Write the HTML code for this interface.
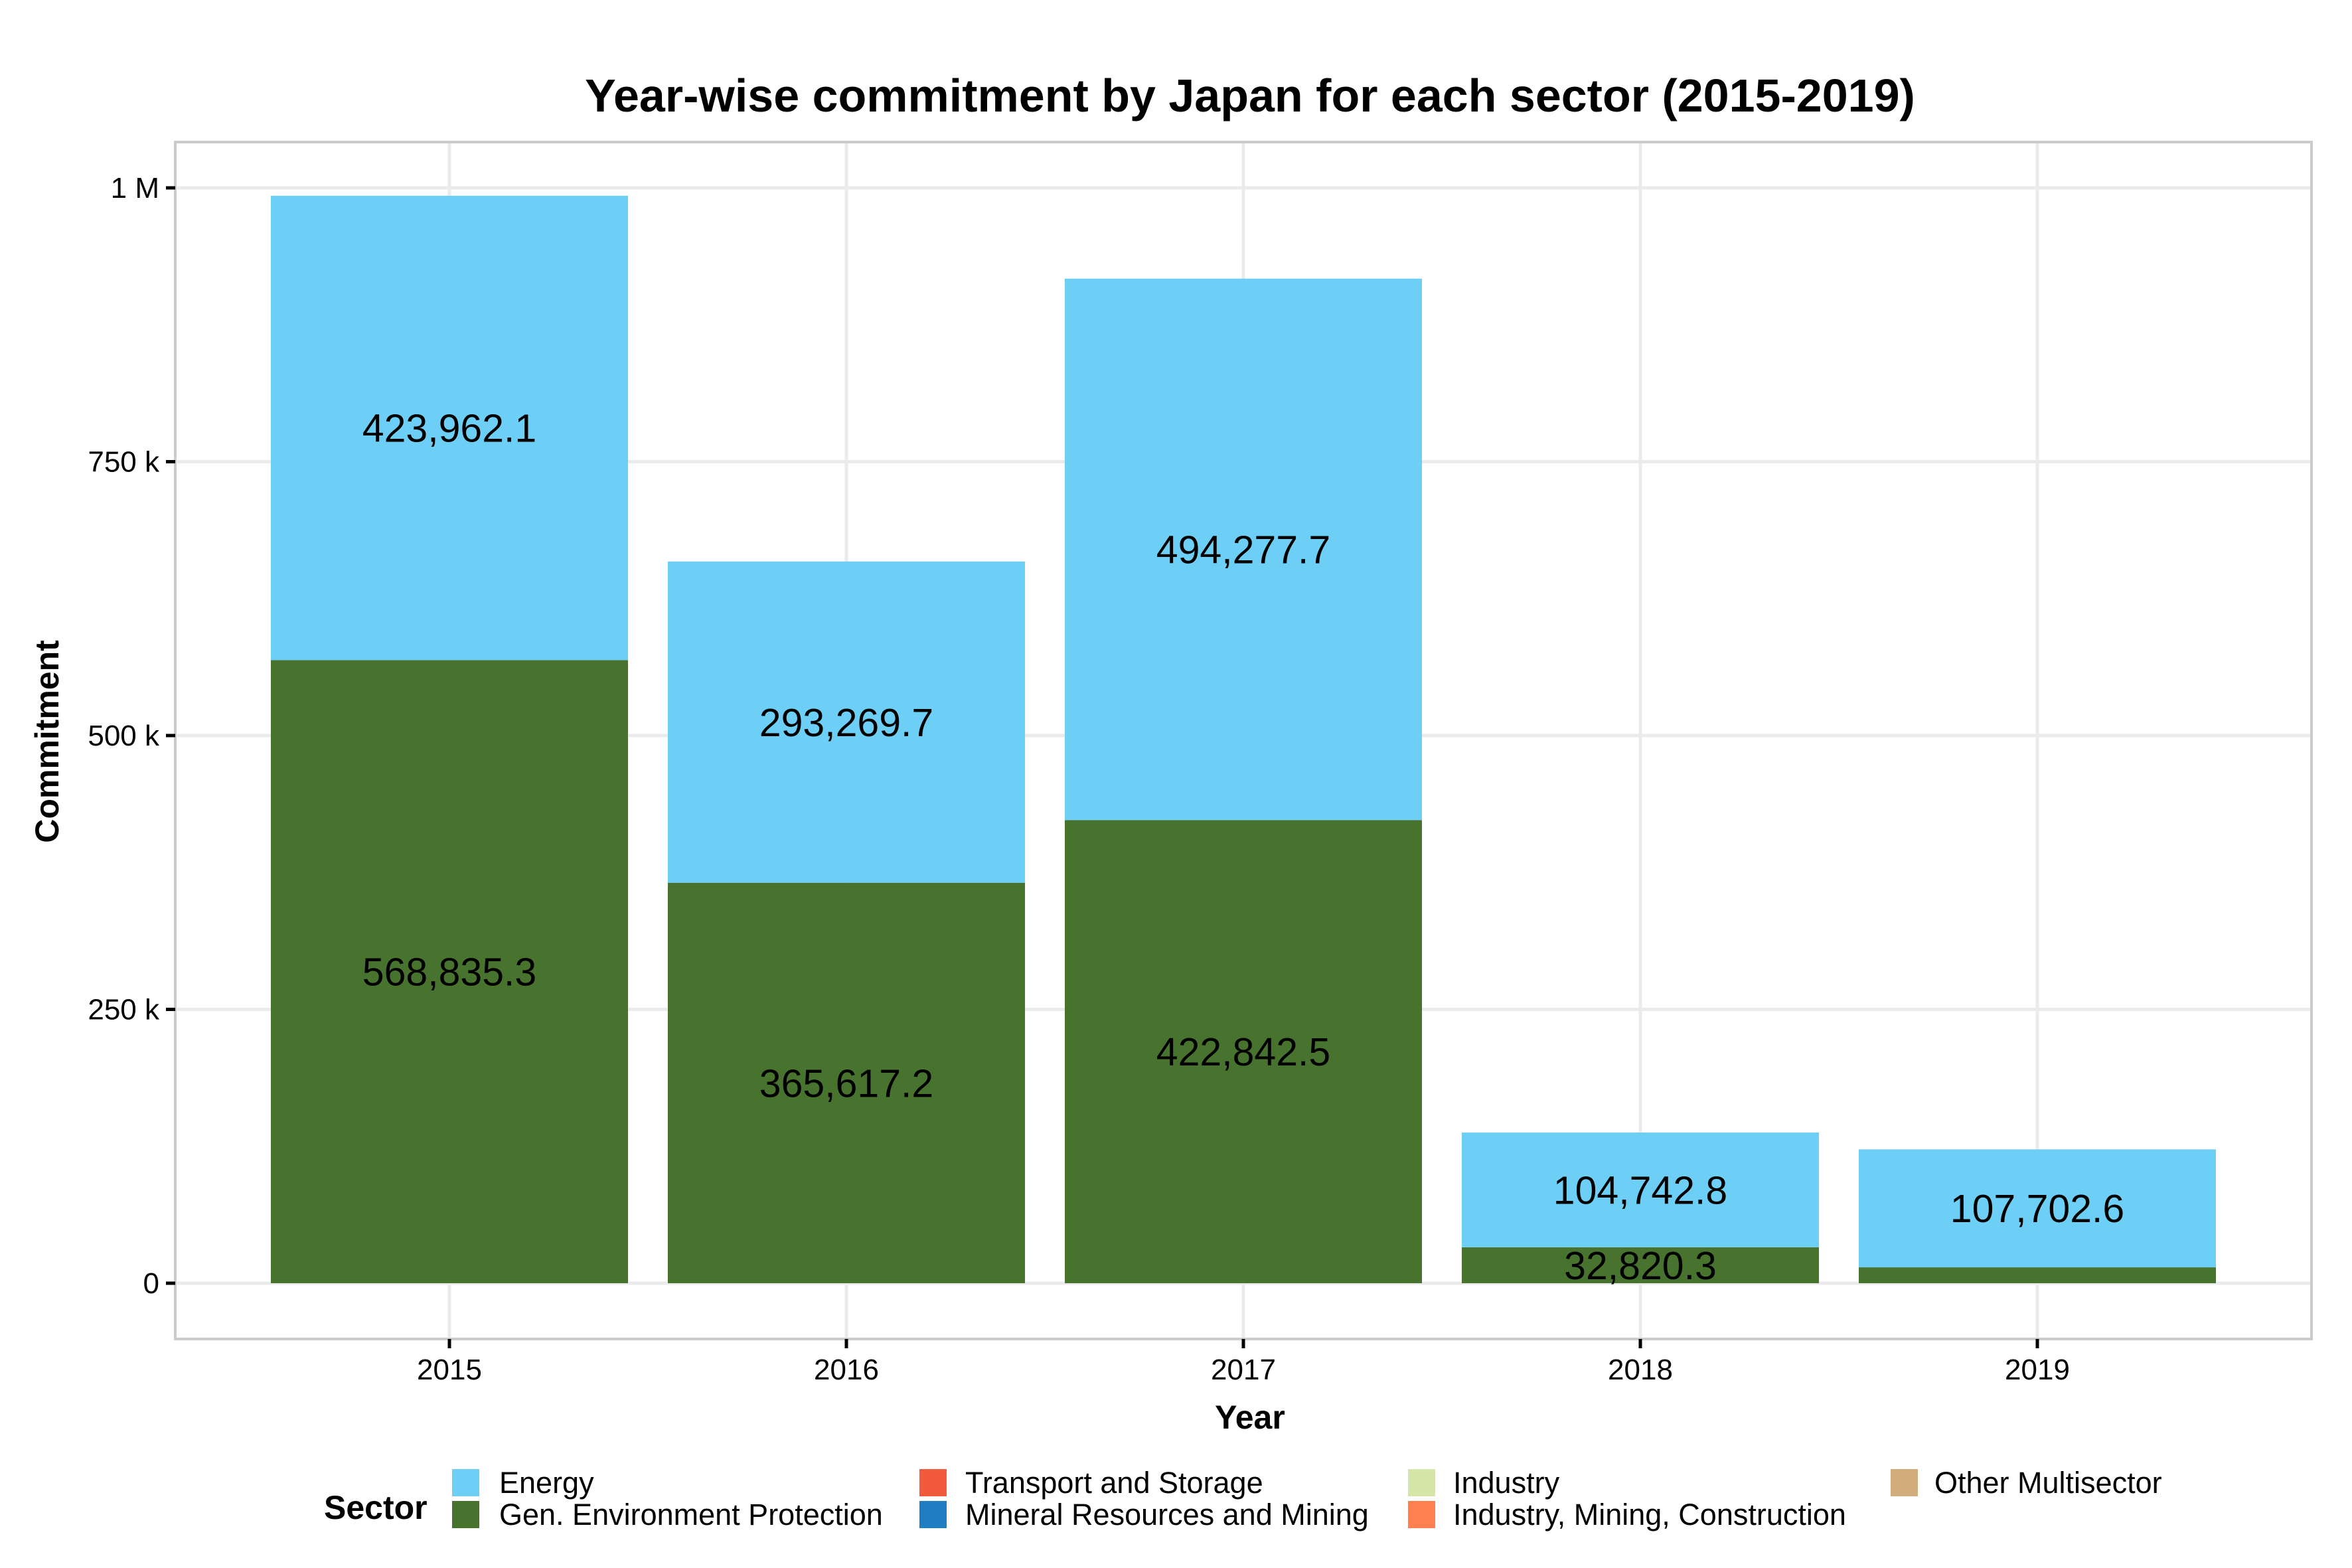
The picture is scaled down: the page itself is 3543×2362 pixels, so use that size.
<!DOCTYPE html>
<html><head><meta charset="utf-8"><style>
html,body{margin:0;padding:0;background:#fff;}
svg{display:block;font-family:"Liberation Sans",Arial,sans-serif;}
</style></head><body>
<svg id="chart" width="3543" height="2362" viewBox="0 0 3543 2362" xmlns="http://www.w3.org/2000/svg">
<rect width="3543" height="2362" fill="#fff"/>
<text x="1883" y="168" font-size="70" font-weight="bold" text-anchor="middle">Year-wise commitment by Japan for each sector (2015-2019)</text>
<g id="grid"></g>
<g id="bars"></g>
<g id="labels"></g>
<rect x="264" y="214" width="3218" height="1803" fill="none" stroke="#cccccc" stroke-width="4"/>
<g id="axes"></g>
<text x="1883" y="2152" font-size="50" font-weight="bold" text-anchor="middle">Year</text>
<text transform="translate(88,1117) rotate(-90)" font-size="50" font-weight="bold" text-anchor="middle">Commitment</text>
<g id="legend"></g>
</svg>
<script>
const years = ["2015","2016","2017","2018","2019"];
const genEnv = [568835.3, 365617.2, 422842.5, 32820.3, 14500];
const energy = [423962.1, 293269.7, 494277.7, 104742.8, 107702.6];
const genEnvLabels = ["568,835.3","365,617.2","422,842.5","32,820.3",""];
const energyLabels = ["423,962.1","293,269.7","494,277.7","104,742.8","107,702.6"];
const yTicks = [0, 250000, 500000, 750000, 1000000];
const yTickLabels = ["0","250 k","500 k","750 k","1 M"];
const legendNames = ["Energy","Gen. Environment Protection","Transport and Storage","Mineral Resources and Mining","Industry","Industry, Mining, Construction","Other Multisector"];
const legendColors = ["#6ECFF6","#48732F","#F15A3A","#1F7DC1","#D6E5A8","#FF7F50","#D2AD7C"];

const NS="http://www.w3.org/2000/svg";
const PL=264, PR=3482, PT=214, PB=2017;
const y = v => 1933 - v*1650/1000000;
const x = i => 677 + i*598;
const BW = 538;
function mk(tag, attrs, parent, text){
  const e=document.createElementNS(NS,tag);
  for(const k in attrs) e.setAttribute(k,attrs[k]);
  if(text!==undefined) e.textContent=text;
  parent.appendChild(e); return e;
}
const grid=document.getElementById('grid'), bars=document.getElementById('bars'),
 labels=document.getElementById('labels'), axes=document.getElementById('axes'), legend=document.getElementById('legend');
mk('rect',{x:PL,y:PT,width:PR-PL,height:PB-PT,fill:'#fff'},grid);
yTicks.forEach((t,i)=>{
  const l=mk('line',{x1:PL,x2:PR,y1:y(t),y2:y(t),stroke:'#ebebeb','stroke-width':5},grid);
  
  
  const tk=mk('line',{x1:250,x2:264,y1:y(t),y2:y(t),stroke:'#000','stroke-width':5},axes);
  
  
  const tl=mk('text',{x:240,y:y(t)+15,'font-size':44,'text-anchor':'end'},axes,yTickLabels[i]);
  
  
});
years.forEach((yr,i)=>{
  const l=mk('line',{x1:x(i),x2:x(i),y1:PT,y2:PB,stroke:'#ebebeb','stroke-width':5},grid);
  
  
  const tk=mk('line',{x1:x(i),x2:x(i),y1:PB,y2:PB+14,stroke:'#000','stroke-width':5},axes);
  
  
  const tl=mk('text',{x:x(i),y:2078,'font-size':44,'text-anchor':'middle'},axes,yr);
  
  
  const g0=y(0), g1=y(genEnv[i]), e1=y(genEnv[i]+energy[i]);
  const rg=mk('rect',{x:x(i)-BW/2,y:g1,width:BW,height:g0-g1,fill:'#48732F'},bars);
  
  
  const re=mk('rect',{x:x(i)-BW/2,y:e1,width:BW,height:g1-e1,fill:'#6ECFF6'},bars);
  
  
  if(genEnvLabels[i]){
    const t=mk('text',{x:x(i),y:y(genEnv[i]/2)+21,'font-size':59,'text-anchor':'middle'},labels,genEnvLabels[i]);
    
    
  }
  const t2=mk('text',{x:x(i),y:y(genEnv[i]+energy[i]/2)+21,'font-size':59,'text-anchor':'middle'},labels,energyLabels[i]);
  
  
});
const st=mk('text',{x:488,y:2288,'font-size':50,'font-weight':'bold'},legend,'Sector');


const colKey=[681,1385,2121,2848], colText=[752,1454,2189,2914], rowY=[2233,2281];
legendNames.forEach((n,i)=>{
  const c=Math.floor(i/2), r=i%2;
  const k=mk('rect',{x:colKey[c],y:rowY[r]-20,width:41,height:41,fill:legendColors[i]},legend);
  
  
  const t=mk('text',{x:colText[c],y:rowY[r]+16,'font-size':45},legend,n);
  
  
});
</script>
</body></html>
